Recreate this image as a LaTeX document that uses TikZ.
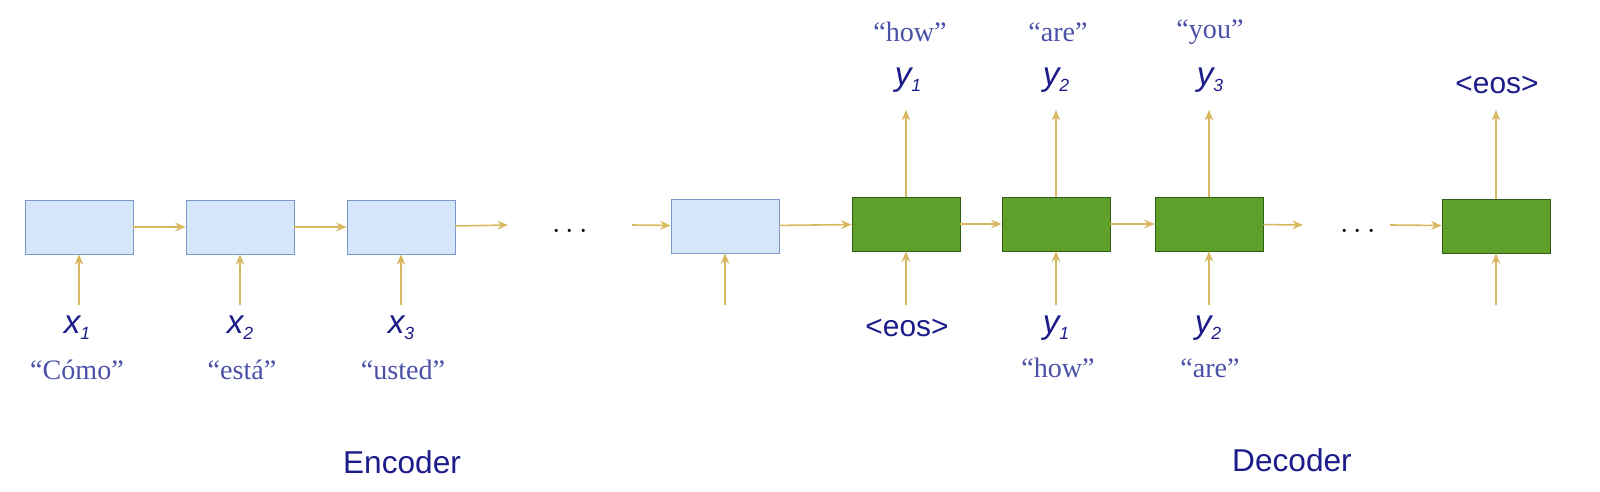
\documentclass[tikz,border=0pt]{standalone}
\usepackage{fontspec}
\setmainfont{Liberation Serif}
\setsansfont{Liberation Sans}
\usetikzlibrary{arrows.meta}
\definecolor{encfill}{HTML}{D5E5FA}
\definecolor{encdraw}{HTML}{7A99C9}
\definecolor{decfill}{HTML}{5FA02A}
\definecolor{decdraw}{HTML}{2F5F14}
\definecolor{arr}{HTML}{D9B862}
\definecolor{lab}{HTML}{1C1C8A}
\definecolor{quo}{HTML}{4B50A8}
\newcommand{\mysub}[1]{\raisebox{-0.35ex}{\fontsize{10}{11}\selectfont #1}}
\begin{document}
\begin{tikzpicture}[x=0.02cm,y=-0.02cm,
 enc/.style={draw=encdraw,fill=encfill,minimum width=108*0.02cm,minimum height=54*0.02cm,inner sep=0},
 dec/.style={draw=decdraw,fill=decfill,minimum width=108*0.02cm,minimum height=54*0.02cm,inner sep=0},
 con/.style={draw=arr,line width=0.9pt,-{Stealth[length=6pt,width=5pt]}},
 var/.style={text=lab,font=\sffamily\itshape\fontsize{19}{20}\selectfont},
 tok/.style={text=lab,font=\sffamily\fontsize{17}{18}\selectfont},
 quote/.style={text=quo,font=\fontsize{16}{17}\selectfont},
 title/.style={text=lab,font=\sffamily\fontsize{18}{19}\selectfont}]
\useasboundingbox (0,0) rectangle (1600,492);
\node[enc] (e1) at (79,227) {};
\node[enc] (e2) at (240,227) {};
\node[enc] (e3) at (401,227) {};
\node[enc] (e4) at (725,226) {};
\node[dec] (d1) at (906,224) {};
\node[dec] (d2) at (1056,224) {};
\node[dec] (d3) at (1209,224) {};
\node[dec] (d4) at (1496,226) {};
\node (dots1) at (570,232) {\fontsize{17}{18}\selectfont$\cdots$};
\node (dots2) at (1358,232) {\fontsize{17}{18}\selectfont$\cdots$};
\coordinate (e3o) at (508,225);
\coordinate (e4i) at (632,225);
\coordinate (d3o) at (1303,225);
\coordinate (d4i) at (1390,225);
\draw[con] (e1) -- (e2);
\draw[con] (e2) -- (e3);
\draw[con] (e3) -- (e3o);
\draw[con] (e4i) -- (e4);
\draw[con] (e4) -- (d1);
\draw[con] (d1) -- (d2);
\draw[con] (d2) -- (d3);
\draw[con] (d3) -- (d3o);
\draw[con] (d4i) -- (d4);
\foreach \b/\x in {e1/79,e2/240,e3/401,e4/725,d1/906,d2/1056,d3/1209,d4/1496}{
  \coordinate (\b in) at (\x,305);
  \draw[con] (\b in) -- (\b);
}
\foreach \b/\x in {d1/906,d2/1056,d3/1209,d4/1496}{
  \coordinate (\b out) at (\x,110);
  \draw[con] (\b) -- (\b out);
}
\node[var] (x1) at (77,328) {x\mysub{1}};
\node[var] (x2) at (240,328) {x\mysub{2}};
\node[var] (x3) at (401,328) {x\mysub{3}};
\node[quote] (q1) at (77,370) {“Cómo”};
\node[quote] (q2) at (242,370) {“está”};
\node[quote] (q3) at (403,370) {“usted”};
\node[tok] (eosin) at (907,328) {<eos>};
\node[var] (yi1) at (1056,328) {y\mysub{1}};
\node[var] (yi2) at (1208,328) {y\mysub{2}};
\node[quote] (qi1) at (1058,368) {“how”};
\node[quote] (qi2) at (1210,368) {“are”};
\node[var] (yo1) at (908,80) {y\mysub{1}};
\node[var] (yo2) at (1056,80) {y\mysub{2}};
\node[var] (yo3) at (1210,80) {y\mysub{3}};
\node[quote] (qo1) at (910,32) {“how”};
\node[quote] (qo2) at (1058,32) {“are”};
\node[quote] (qo3) at (1210,32) {“you”};
\node[tok] (eosout) at (1497,85) {<eos>};
\node[title] (enc) at (402,462) {Encoder};
\node[title] (dec) at (1292,460) {Decoder};
\end{tikzpicture}
\end{document}
